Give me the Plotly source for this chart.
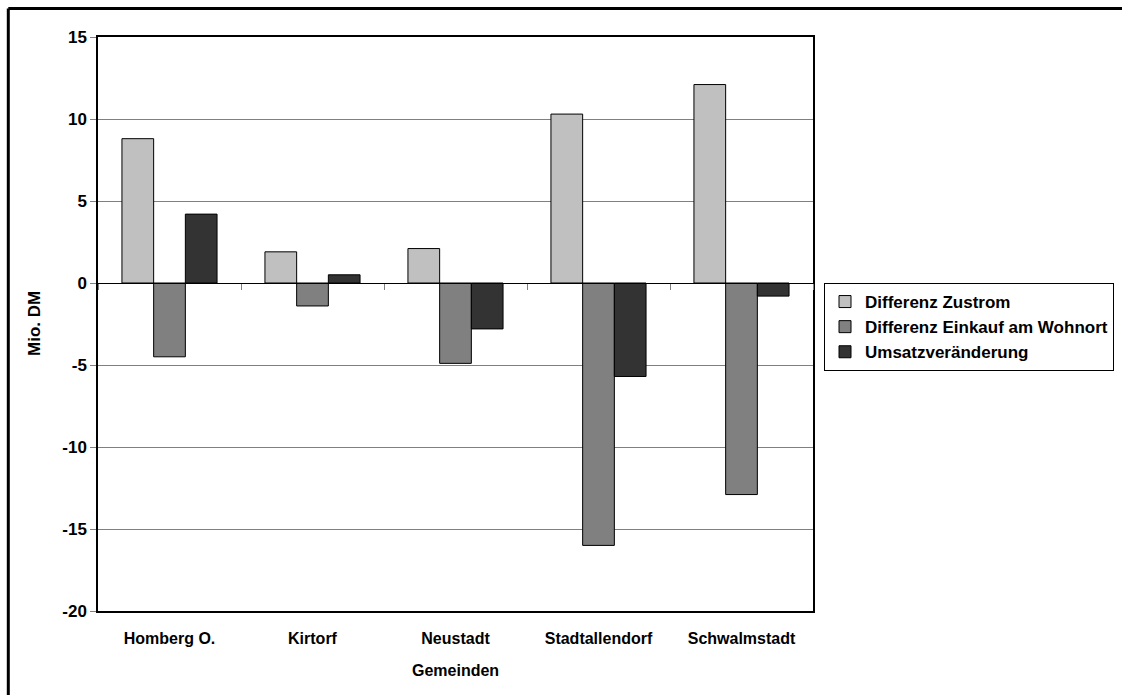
import plotly.graph_objects as go

# Categories (municipalities) and series values in Mio. DM
gemeinden = ["Homberg O.", "Kirtorf", "Neustadt", "Stadtallendorf", "Schwalmstadt"]
differenz_zustrom = [8.8, 1.9, 2.1, 10.3, 12.1]
differenz_einkauf = [-4.5, -1.4, -4.9, -16.0, -12.9]
umsatzveraenderung = [4.2, 0.5, -2.8, -5.7, -0.8]

y_ticks = [15, 10, 5, 0, -5, -10, -15, -20]
y_ticktext = [str(v) for v in y_ticks]

FONT = "Liberation Sans, Arial, sans-serif"
W, H = 1122, 695
L, R, T, B = 98, 309, 37, 84
PW, PH = W - L - R, H - T - B


def px_x(px):
    return (px - L) / PW


def px_y(py):
    return (H - B - py) / PH


series = [
    ("Differenz Zustrom", differenz_zustrom, "#C0C0C0"),
    ("Differenz Einkauf am Wohnort", differenz_einkauf, "#808080"),
    ("Umsatzveränderung", umsatzveraenderung, "#333333"),
]

fig = go.Figure()
for name, vals, color in series:
    fig.add_trace(go.Bar(
        x=gemeinden, y=vals, name=name,
        marker=dict(color=color, line=dict(color="black", width=1)),
    ))

n = len(gemeinden)
boundaries = [i + 0.5 for i in range(-1, n)]

# empty trace so the overlaying category-separator axis gets drawn
fig.add_trace(go.Scatter(x=[None], y=[None], xaxis="x2", yaxis="y",
                         showlegend=False, hoverinfo="skip"))

fig.update_layout(
    width=W, height=H,
    margin=dict(l=L, r=R, t=T, b=B, autoexpand=False),
    paper_bgcolor="white", plot_bgcolor="white",
    barmode="group", bargap=0.335, bargroupgap=0,
    font=dict(family=FONT, color="black"),
    showlegend=True,
    legend=dict(
        xref="container", yref="container",
        x=824 / W, y=1 - 283 / H, xanchor="left", yanchor="top",
        bgcolor="white", bordercolor="black", borderwidth=1,
        font=dict(family=FONT, size=17, color="black", weight="bold"),
        tracegroupgap=0, itemwidth=30,
    ),
    xaxis=dict(
        type="category", range=[-0.5, n - 0.5],
        showgrid=False, zeroline=False,
        showline=True, linecolor="black", linewidth=1.5, mirror=True,
        ticks="", ticklabelstandoff=12,
        tickfont=dict(family=FONT, size=16, color="black", weight="bold"),
    ),
    # category separators drawn on the zero line
    xaxis2=dict(
        overlaying="x", anchor="free", position=px_y(283.3),
        range=[-0.5, n - 0.5], tickvals=boundaries,
        showticklabels=False, ticks="outside", ticklen=6, tickwidth=1,
        tickcolor="#808080", showgrid=False, zeroline=False,
        showline=True, linecolor="black", linewidth=1,
    ),
    yaxis=dict(
        range=[-20, 15], tickvals=y_ticks, ticktext=y_ticktext,
        showgrid=True, gridcolor="#808080", gridwidth=1,
        zeroline=False,
        showline=True, linecolor="black", linewidth=1.5, mirror=True,
        ticks="outside", ticklen=6, tickcolor="#808080",
        tickfont=dict(family=FONT, size=17, color="black", weight="bold"),
    ),
    annotations=[
        dict(text="Mio. DM", xref="paper", yref="paper",
             x=px_x(34), y=px_y(324), textangle=-90,
             showarrow=False, xanchor="center", yanchor="middle",
             font=dict(family=FONT, size=17, color="black", weight="bold")),
        dict(text="Gemeinden", xref="paper", yref="paper",
             x=0.5, y=px_y(670), showarrow=False,
             xanchor="center", yanchor="middle",
             font=dict(family=FONT, size=16, color="black", weight="bold")),
    ],
    shapes=[
        # outer frame: top and left edges
        dict(type="line", xref="paper", yref="paper",
             x0=px_x(8.3), x1=px_x(W),
             y0=px_y(8.5), y1=px_y(8.5),
             line=dict(color="black", width=3)),
        dict(type="line", xref="paper", yref="paper",
             x0=px_x(8.3), x1=px_x(8.3),
             y0=px_y(H), y1=px_y(8.5),
             line=dict(color="black", width=3)),
    ],
)

fig.write_html("out.html")
